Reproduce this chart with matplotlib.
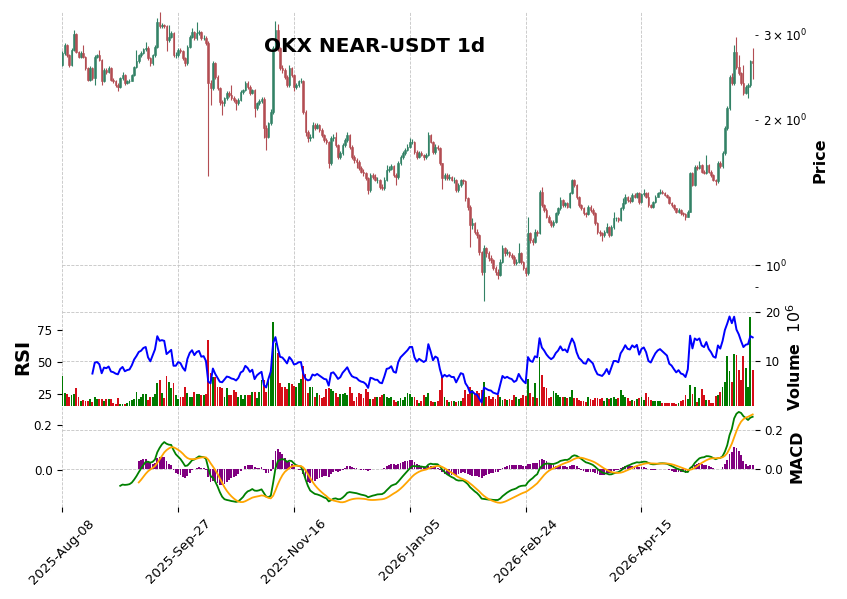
"""OKX NEAR-USDT daily candles with volume, RSI(14) and MACD(12, 26, 9) panels."""

import matplotlib

matplotlib.use("Agg")
import matplotlib.pyplot as plt
import pandas as pd
from matplotlib.ticker import FormatStrFormatter

START_DATE = "2025-08-08"
FIRST_OPEN = 2.60

closes = [
    2.745, 2.857, 2.72, 2.597, 2.79, 3.006, 2.767, 2.70, 2.745, 2.70,
    2.556, 2.418, 2.556, 2.437, 2.70, 2.72, 2.66, 2.40, 2.536, 2.516,
    2.556, 2.418, 2.40, 2.361, 2.342, 2.437, 2.476, 2.38, 2.40, 2.41,
    2.476, 2.576, 2.64, 2.72, 2.745, 2.80, 2.82, 2.68, 2.618, 2.72,
    2.835, 3.19, 3.12, 3.14, 3.13, 2.925, 2.97, 3.02, 2.72, 2.72,
    2.79, 2.77, 2.68, 2.618, 2.835, 2.97, 3.035, 2.949, 3.02, 3.045,
    2.949, 2.96, 2.88, 2.38, 2.323, 2.618, 2.456, 2.323, 2.18, 2.163,
    2.215, 2.27, 2.253, 2.215, 2.20, 2.163, 2.20, 2.28, 2.30, 2.38,
    2.342, 2.27, 2.30, 2.112, 2.163, 2.19, 2.21, 1.92, 1.845, 1.966,
    2.079, 2.81, 3.07, 2.81, 2.556, 2.536, 2.456, 2.361, 2.556, 2.476,
    2.342, 2.36, 2.40, 2.406, 2.079, 1.889, 1.83, 1.845, 1.95, 1.92,
    1.95, 1.905, 1.86, 1.815, 1.80, 1.625, 1.83, 1.845, 1.773, 1.677,
    1.704, 1.773, 1.815, 1.86, 1.758, 1.677, 1.65, 1.638, 1.587, 1.561,
    1.549, 1.512, 1.43, 1.536, 1.524, 1.50, 1.50, 1.453, 1.442, 1.50,
    1.574, 1.58, 1.60, 1.536, 1.524, 1.625, 1.677, 1.704, 1.731, 1.76,
    1.80, 1.80, 1.717, 1.677, 1.704, 1.69, 1.677, 1.69, 1.86, 1.80,
    1.717, 1.759, 1.745, 1.625, 1.512, 1.536, 1.512, 1.524, 1.50, 1.50,
    1.43, 1.465, 1.50, 1.49, 1.375, 1.32, 1.21, 1.22, 1.172, 1.154,
    1.066, 0.969, 1.083, 1.057, 1.032, 1.024, 0.984, 0.969, 0.954, 1.016,
    1.083, 1.057, 1.066, 1.049, 1.04, 1.008, 1.016, 1.057, 1.016, 0.984,
    0.961, 1.163, 1.127, 1.118, 1.172, 1.163, 1.419, 1.331, 1.30, 1.259,
    1.23, 1.21, 1.23, 1.28, 1.31, 1.364, 1.331, 1.342, 1.32, 1.41,
    1.50, 1.465, 1.386, 1.331, 1.31, 1.28, 1.274, 1.32, 1.30, 1.28,
    1.22, 1.172, 1.163, 1.154, 1.172, 1.20, 1.154, 1.20, 1.249, 1.249,
    1.24, 1.31, 1.342, 1.386, 1.364, 1.36, 1.397, 1.386, 1.408, 1.353,
    1.40, 1.413, 1.386, 1.331, 1.32, 1.353, 1.386, 1.408, 1.419, 1.408,
    1.397, 1.386, 1.342, 1.331, 1.31, 1.29, 1.30, 1.28, 1.275, 1.259,
    1.29, 1.549, 1.465, 1.599, 1.587, 1.612, 1.561, 1.549, 1.612, 1.561,
    1.536, 1.50, 1.49, 1.625, 1.60, 1.704, 1.92, 2.112, 2.456, 2.38,
    2.767, 2.576, 2.497, 2.38, 2.27, 2.342, 2.361, 2.64, 2.618,
]

highs = [
    2.77, 2.88, 2.87, 2.74, 2.81, 3.07, 3.03, 2.78, 2.77, 2.86,
    2.71, 2.57, 2.58, 2.57, 2.72, 2.74, 2.79, 2.67, 2.56, 2.56,
    2.58, 2.57, 2.44, 2.42, 2.38, 2.45, 2.51, 2.49, 2.42, 2.43,
    2.49, 2.59, 2.79, 2.74, 2.77, 2.82, 2.90, 2.84, 2.70, 2.74,
    2.86, 3.25, 3.35, 3.17, 3.16, 3.14, 3.14, 3.05, 3.04, 2.76,
    2.81, 2.82, 2.79, 2.70, 2.85, 2.99, 3.10, 3.05, 3.19, 3.07,
    3.06, 2.99, 2.98, 2.91, 2.42, 2.64, 2.63, 2.47, 2.34, 2.20,
    2.23, 2.29, 2.29, 2.36, 2.24, 2.21, 2.22, 2.30, 2.32, 2.41,
    2.40, 2.36, 2.32, 2.32, 2.18, 2.21, 2.23, 2.23, 1.95, 1.98,
    2.10, 2.84, 3.20, 3.16, 2.83, 2.60, 2.56, 2.48, 2.60, 2.57,
    2.49, 2.38, 2.42, 2.44, 2.42, 2.09, 1.90, 1.87, 1.98, 1.97,
    1.97, 1.96, 1.92, 1.87, 1.83, 1.81, 1.85, 1.87, 1.89, 1.78,
    1.72, 1.79, 1.83, 1.89, 1.87, 1.77, 1.69, 1.67, 1.65, 1.60,
    1.58, 1.56, 1.52, 1.55, 1.55, 1.54, 1.52, 1.51, 1.47, 1.52,
    1.61, 1.60, 1.62, 1.61, 1.55, 1.64, 1.69, 1.72, 1.75, 1.78,
    1.83, 1.82, 1.81, 1.73, 1.72, 1.72, 1.70, 1.71, 1.89, 1.87,
    1.81, 1.78, 1.77, 1.76, 1.63, 1.55, 1.55, 1.54, 1.53, 1.52,
    1.51, 1.48, 1.51, 1.51, 1.50, 1.38, 1.33, 1.25, 1.23, 1.19,
    1.16, 1.07, 1.10, 1.09, 1.07, 1.05, 1.03, 0.995, 0.98, 1.03,
    1.10, 1.09, 1.08, 1.07, 1.06, 1.05, 1.03, 1.11, 1.065, 1.02,
    0.99, 1.259, 1.17, 1.14, 1.19, 1.18, 1.43, 1.453, 1.34, 1.31,
    1.27, 1.24, 1.24, 1.29, 1.32, 1.38, 1.37, 1.35, 1.35, 1.42,
    1.51, 1.51, 1.47, 1.39, 1.34, 1.32, 1.29, 1.33, 1.33, 1.31,
    1.29, 1.23, 1.18, 1.17, 1.18, 1.22, 1.205, 1.21, 1.29, 1.26,
    1.26, 1.32, 1.375, 1.40, 1.39, 1.38, 1.41, 1.41, 1.42, 1.415,
    1.41, 1.44, 1.42, 1.42, 1.34, 1.36, 1.395, 1.42, 1.44, 1.43,
    1.415, 1.40, 1.39, 1.35, 1.34, 1.315, 1.31, 1.305, 1.29, 1.28,
    1.30, 1.56, 1.56, 1.61, 1.61, 1.64, 1.62, 1.57, 1.69, 1.62,
    1.57, 1.545, 1.51, 1.64, 1.64, 1.72, 1.94, 2.14, 2.48, 2.50,
    2.86, 2.97, 2.72, 2.51, 2.60, 2.36, 2.38, 2.66, 2.81,
]

lows = [
    2.59, 2.72, 2.70, 2.57, 2.58, 2.77, 2.75, 2.68, 2.69, 2.68,
    2.53, 2.40, 2.41, 2.42, 2.36, 2.68, 2.64, 2.36, 2.39, 2.49,
    2.50, 2.40, 2.38, 2.34, 2.29, 2.33, 2.42, 2.36, 2.37, 2.38,
    2.40, 2.46, 2.56, 2.62, 2.70, 2.73, 2.78, 2.66, 2.59, 2.60,
    2.70, 2.82, 3.09, 3.10, 3.10, 2.77, 2.90, 2.95, 2.70, 2.69,
    2.70, 2.75, 2.66, 2.59, 2.60, 2.82, 2.95, 2.93, 2.93, 2.99,
    2.93, 2.93, 2.86, 1.528, 2.146, 2.30, 2.43, 2.30, 2.15, 2.05,
    2.14, 2.20, 2.23, 2.20, 2.18, 2.09, 2.15, 2.19, 2.26, 2.29,
    2.32, 2.25, 2.26, 2.03, 2.09, 2.15, 2.17, 1.83, 1.73, 1.83,
    1.95, 2.06, 2.78, 2.78, 2.53, 2.50, 2.43, 2.34, 2.34, 2.45,
    2.29, 2.32, 2.34, 2.38, 2.06, 1.85, 1.80, 1.81, 1.83, 1.90,
    1.91, 1.89, 1.84, 1.80, 1.78, 1.59, 1.61, 1.81, 1.76, 1.66,
    1.66, 1.69, 1.76, 1.80, 1.74, 1.66, 1.63, 1.59, 1.57, 1.55,
    1.53, 1.50, 1.40, 1.42, 1.51, 1.49, 1.48, 1.44, 1.43, 1.43,
    1.49, 1.56, 1.57, 1.52, 1.465, 1.51, 1.61, 1.66, 1.69, 1.72,
    1.75, 1.78, 1.70, 1.66, 1.67, 1.68, 1.65, 1.66, 1.68, 1.79,
    1.70, 1.70, 1.73, 1.61, 1.44, 1.50, 1.50, 1.50, 1.49, 1.48,
    1.42, 1.42, 1.45, 1.47, 1.36, 1.30, 1.09, 1.19, 1.16, 1.14,
    1.05, 0.955, 0.842, 1.04, 1.02, 1.01, 0.975, 0.955, 0.936, 0.95,
    1.01, 1.045, 1.05, 1.04, 1.03, 1.00, 1.00, 1.01, 1.005, 0.975,
    0.95, 0.955, 1.11, 1.10, 1.11, 1.15, 1.16, 1.32, 1.29, 1.25,
    1.22, 1.20, 1.20, 1.22, 1.27, 1.30, 1.32, 1.32, 1.31, 1.31,
    1.40, 1.45, 1.37, 1.32, 1.30, 1.27, 1.26, 1.27, 1.29, 1.27,
    1.21, 1.16, 1.15, 1.12, 1.145, 1.165, 1.145, 1.15, 1.19, 1.235,
    1.23, 1.235, 1.30, 1.335, 1.35, 1.345, 1.35, 1.375, 1.375, 1.34,
    1.345, 1.39, 1.375, 1.32, 1.31, 1.31, 1.345, 1.38, 1.40, 1.40,
    1.39, 1.375, 1.335, 1.32, 1.30, 1.28, 1.28, 1.27, 1.265, 1.24,
    1.255, 1.285, 1.455, 1.46, 1.57, 1.58, 1.55, 1.54, 1.54, 1.55,
    1.52, 1.49, 1.465, 1.48, 1.59, 1.59, 1.69, 1.90, 2.09, 2.36,
    2.36, 2.55, 2.48, 2.36, 2.25, 2.26, 2.215, 2.34, 2.43,
]

# daily volume, millions of NEAR
volume_m = [
    6.8, 3.3, 3.1, 2.4, 3.0, 3.2, 4.3, 2.6, 1.6, 1.9,
    1.7, 1.7, 2.1, 1.5, 2.5, 2.1, 2.1, 2.1, 1.6, 2.1,
    2.1, 2.1, 1.2, 1.1, 2.2, 1.1, 1.1, 1.0, 1.3, 1.6,
    1.9, 2.1, 3.5, 2.1, 2.6, 3.1, 3.1, 1.9, 2.4, 2.5,
    3.1, 5.3, 6.0, 3.3, 2.3, 6.8, 5.6, 4.3, 5.3, 3.0,
    2.1, 2.5, 2.6, 4.5, 3.3, 2.5, 2.6, 3.5, 3.1, 3.1,
    3.0, 3.0, 3.1, 14.3, 7.4, 6.6, 6.6, 4.5, 4.5, 4.3,
    2.6, 4.3, 3.0, 3.0, 3.9, 3.6, 2.6, 3.0, 2.1, 3.0,
    3.0, 3.0, 3.6, 3.6, 2.3, 3.6, 6.0, 6.0, 3.6, 6.3,
    8.0, 18.1, 13.6, 11.5, 5.3, 4.5, 4.5, 4.1, 5.3, 5.1,
    4.8, 4.5, 5.3, 6.3, 8.9, 7.3, 3.4, 4.5, 4.5, 2.5,
    3.3, 3.0, 2.2, 2.5, 4.1, 4.3, 4.1, 3.7, 3.3, 2.6,
    3.1, 3.1, 3.3, 3.0, 4.5, 3.3, 1.7, 2.5, 3.4, 3.1,
    2.2, 4.1, 3.6, 2.1, 2.1, 2.5, 2.6, 2.5, 3.0, 3.2,
    2.6, 2.2, 2.4, 1.9, 1.5, 1.7, 2.3, 1.9, 2.5, 3.4,
    3.2, 2.4, 2.4, 1.9, 1.2, 1.6, 3.0, 2.5, 3.3, 1.7,
    1.5, 1.5, 1.7, 4.0, 6.6, 2.6, 1.9, 1.5, 1.7, 1.6,
    1.5, 1.6, 1.6, 2.3, 3.9, 3.2, 4.5, 3.9, 3.2, 3.8,
    3.3, 4.0, 5.6, 2.5, 2.8, 2.1, 2.5, 2.1, 3.0, 2.5,
    1.9, 2.1, 1.8, 2.1, 1.9, 3.0, 2.5, 2.1, 2.3, 3.0,
    2.8, 6.3, 3.3, 2.6, 5.3, 2.3, 10.8, 7.1, 4.6, 4.3,
    2.3, 2.5, 3.8, 3.4, 3.0, 2.6, 2.5, 2.5, 2.2, 2.6,
    3.9, 2.3, 2.2, 1.9, 1.7, 1.6, 1.5, 2.6, 2.1, 1.8,
    2.2, 2.3, 2.1, 2.2, 1.7, 2.2, 2.1, 2.2, 2.6, 2.1,
    2.3, 3.9, 3.0, 2.5, 2.2, 1.7, 1.9, 1.6, 2.1, 2.2,
    2.6, 1.9, 3.3, 2.6, 1.9, 1.6, 1.7, 1.7, 1.7, 1.2,
    1.2, 1.3, 1.3, 1.2, 1.3, 1.1, 1.2, 1.6, 1.9, 3.0,
    2.0, 5.0, 3.1, 4.6, 1.5, 2.2, 4.2, 2.9, 1.9, 1.9,
    1.2, 1.2, 2.7, 2.9, 3.6, 4.6, 5.7, 10.9, 7.8, 5.7,
    11.4, 11.2, 8.1, 6.0, 10.9, 8.4, 4.6, 19.1, 8.1,
]

UP_CANDLE = "#338266"
DOWN_CANDLE = "#b34d53"
UP_VOL = "#007a00"
DOWN_VOL = "#d50d18"
GRID = "#c4c4c4"
TICK_SIZE = 8.6
LABEL_SIZE = 11.5


def rsi(close, period=14):
    # Wilder smoothing, seeded with a plain mean of the first `period` changes
    delta = close.diff().fillna(0.0)
    gains = delta.clip(lower=0).tolist()
    losses = (-delta.clip(upper=0)).tolist()
    out = [float("nan")] * len(close)
    avg_g = sum(gains[:period]) / period
    avg_l = sum(losses[:period]) / period
    out[period - 1] = 100 - 100 / (1 + avg_g / avg_l)
    for i in range(period, len(close)):
        avg_g = (avg_g * (period - 1) + gains[i]) / period
        avg_l = (avg_l * (period - 1) + losses[i]) / period
        out[i] = 100 - 100 / (1 + avg_g / avg_l)
    return pd.Series(out)


def macd(close, fast=12, slow=26, signal=9):
    ema_fast = close.ewm(span=fast, adjust=False, min_periods=fast).mean()
    ema_slow = close.ewm(span=slow, adjust=False, min_periods=slow).mean()
    line = ema_fast - ema_slow
    sig = line.ewm(span=signal, adjust=False, min_periods=signal).mean()
    return line, sig, line - sig


def bare(ax, side, grid=True):
    for spine in ax.spines.values():
        spine.set_visible(False)
    if side == "right":
        ax.yaxis.tick_right()
    else:
        ax.yaxis.tick_left()
    ax.yaxis.set_label_position(side)
    ax.tick_params(axis="both", labelsize=TICK_SIZE, length=3.5, width=0.8)
    ax.tick_params(axis="x", bottom=False, labelbottom=False)
    if grid:
        ax.grid(True, which="major", color=GRID, linestyle="--", linewidth=0.6)
        ax.set_axisbelow(True)
    else:
        ax.grid(False)


def main():
    close = pd.Series(closes, dtype=float)
    opens = pd.Series([FIRST_OPEN] + closes[:-1], dtype=float)
    dates = pd.date_range(START_DATE, periods=len(close), freq="D")
    x = list(range(len(close)))
    up = close >= opens

    rsi14 = rsi(close)
    macd_line, macd_signal, macd_hist = macd(close)

    fig = plt.figure(figsize=(8.47, 5.99), dpi=100)
    left, width = 62.3 / 847, (755 - 62.3) / 847
    ax_p = fig.add_axes([left, 1 - 307.5 / 599, width, 295.5 / 599])
    ax_v = fig.add_axes([left, 1 - 406 / 599, width, 98.5 / 599], sharex=ax_p)
    ax_m = fig.add_axes([left, 1 - 507 / 599, width, 101 / 599], sharex=ax_p)
    ax_r = ax_v.twinx()
    ax_s = ax_m.twinx()

    # price panel
    body_lo = pd.concat([opens, close], axis=1).min(axis=1)
    body_hi = pd.concat([opens, close], axis=1).max(axis=1)
    candle_colors = [UP_CANDLE if u else DOWN_CANDLE for u in up]
    ax_p.vlines(x, lows, highs, colors=candle_colors, linewidth=0.8)
    ax_p.bar(x, body_hi - body_lo, bottom=body_lo, width=0.7,
             color=candle_colors, edgecolor=candle_colors, linewidth=0.4)
    ax_p.set_yscale("log")
    ax_p.set_ylim(0.8166, 3.343)
    bare(ax_p, "right")
    ax_p.tick_params(axis="y", which="minor", length=2, width=0.6, labelsize=TICK_SIZE)
    ax_p.set_ylabel("Price", fontsize=LABEL_SIZE, fontweight="bold")

    # volume (right axis) + RSI (left axis)
    vol_colors = [UP_VOL if u else DOWN_VOL for u in up]
    ax_v.bar(x, volume_m, width=0.8, color=vol_colors)
    ax_v.set_ylim(0.64, 21.0)
    ax_v.set_yticks([10, 20])
    bare(ax_v, "right")
    ax_v.set_ylabel("Volume  $10^{6}$", fontsize=LABEL_SIZE, fontweight="bold")

    ax_r.plot(x, rsi14, color="blue", linewidth=1.4)
    ax_r.set_ylim(16, 92)
    ax_r.set_yticks([25, 50, 75])
    bare(ax_r, "left", grid=False)
    ax_r.set_ylabel("RSI", fontsize=14, fontweight="bold")

    # MACD panel: histogram and MACD line on the right axis, signal on the left
    ax_m.bar(x, macd_hist, width=0.8, color="purple")
    ax_m.plot(x, macd_line, color="green", linewidth=1.3)
    ax_m.set_ylim(-0.1933, 0.3246)
    ax_m.set_yticks([0.0, 0.2])
    ax_m.yaxis.set_major_formatter(FormatStrFormatter("%.1f"))
    bare(ax_m, "right")
    ax_m.set_ylabel("MACD", fontsize=LABEL_SIZE, fontweight="bold")

    ax_s.plot(x, macd_signal, color="orange", linewidth=1.3)
    ax_s.set_ylim(-0.1655, 0.2864)
    ax_s.set_yticks([0.0, 0.2])
    ax_s.yaxis.set_major_formatter(FormatStrFormatter("%.1f"))
    bare(ax_s, "left", grid=False)

    tick_pos = list(range(0, len(close), 50))
    ax_m.set_xticks(tick_pos)
    ax_m.set_xticklabels([dates[i].strftime("%Y-%b-%d") for i in tick_pos],
                         rotation=45, fontsize=9.5)
    ax_m.tick_params(axis="x", bottom=True, labelbottom=True, length=3.5, width=0.8)
    ax_p.set_xlim(0, len(close))

    fig.text(374.5 / 847, 1 - 47 / 599, "OKX NEAR-USDT 1d", ha="center", va="center",
             fontsize=14.4, fontweight="bold")

    fig.savefig("out.png", dpi=100)
    plt.close(fig)


if __name__ == "__main__":
    main()
